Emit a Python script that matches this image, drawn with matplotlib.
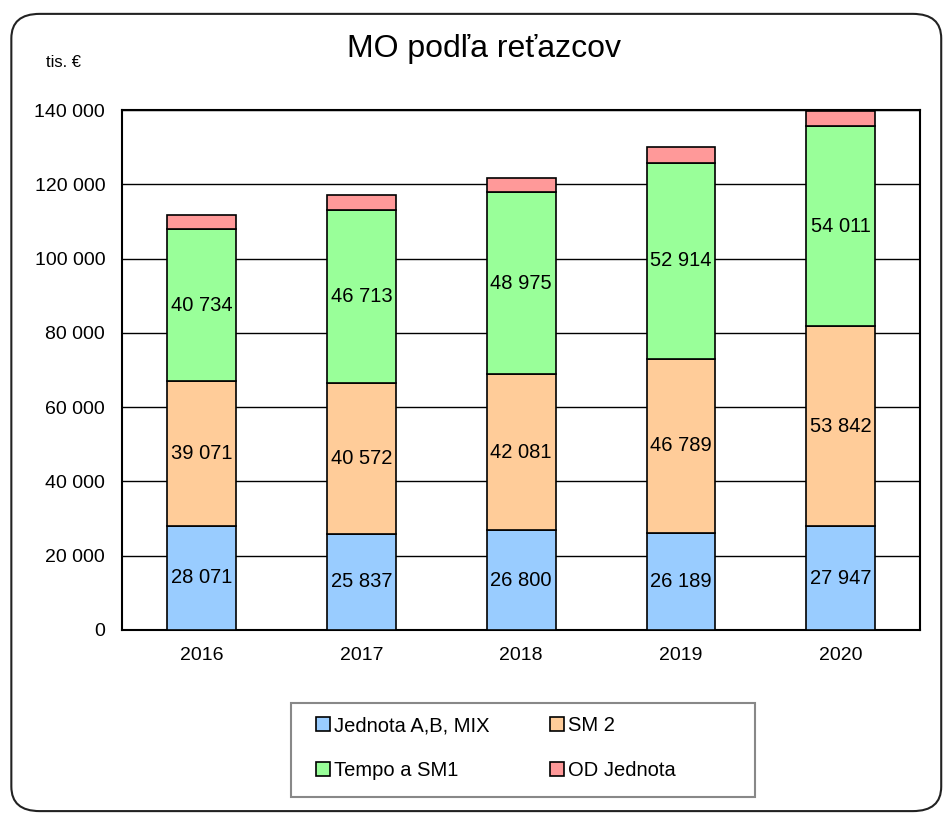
import matplotlib.pyplot as plt
import matplotlib as mpl
from matplotlib.patches import FancyBboxPatch, Rectangle
import numpy as np

years = ['2016', '2017', '2018', '2019', '2020']
jednota = [28071, 25837, 26800, 26189, 27947]
sm2 = [39071, 40572, 42081, 46789, 53842]
tempo = [40734, 46713, 48975, 52914, 54011]
od_jednota = [3900, 3950, 3850, 4150, 3950]

series = [
    ('Jednota A,B, MIX', jednota, '#99CCFF', True),
    ('SM 2', sm2, '#FFCC99', True),
    ('Tempo a SM1', tempo, '#99FF99', True),
    ('OD Jednota', od_jednota, '#FF9999', False),
]

plt.rcParams['font.family'] = ['Liberation Sans', 'DejaVu Sans']

fig = plt.figure(figsize=(9.45, 8.16), dpi=100)
fig.patches.append(FancyBboxPatch((0.012, 0.006), 0.984, 0.977,
                                  boxstyle='round,pad=0,rounding_size=0.03',
                                  transform=fig.transFigure, fill=False,
                                  edgecolor='#222222', lw=1.5))

ax = fig.add_axes([0.129, 0.228, 0.845, 0.637])
x = np.arange(len(years))
bottom = np.zeros(len(years))
for name, vals, color, show in series:
    vals = np.array(vals, dtype=float)
    ax.bar(x, vals, 0.43, bottom=bottom, color=color, edgecolor='black',
           lw=1.2, label=name, zorder=3)
    if show:
        for xi, b, v in zip(x, bottom, vals):
            ax.text(xi, b + v / 2, f'{int(v):,}'.replace(',', ' '),
                    ha='center', va='center', fontsize=14.5, zorder=4)
    bottom += vals

ax.set_xlim(-0.5, len(years) - 0.5)
ax.set_ylim(0, 140000)
ax.set_yticks(np.arange(0, 140001, 20000))
ax.set_yticklabels([f'{v:,}'.replace(',', ' ') for v in range(0, 140001, 20000)])
ax.set_xticks(x)
ax.set_xticklabels(years)
ax.tick_params(axis='both', length=0, labelsize=14, pad=12)
ax.yaxis.grid(True, color='black', lw=1.0, zorder=0)
ax.set_axisbelow(True)
for s in ax.spines.values():
    s.set_linewidth(1.5)
    s.set_color('black')

fig.text(0.512, 0.94, 'MO podľa reťazcov', ha='center', va='center', fontsize=23)
fig.text(0.067, 0.923, 'tis. €', ha='center', va='center', fontsize=12)

# legend frame drawn separately, legend laid out row by row
fig.patches.append(Rectangle((291 / 945, 1 - 797 / 816), 464 / 945, 94 / 816,
                             transform=fig.transFigure, fill=False,
                             edgecolor='#888888', lw=1.5))
handles, labels = ax.get_legend_handles_labels()
order = [0, 2, 1, 3]
leg = fig.legend([handles[i] for i in order], [labels[i] for i in order],
                 ncol=2, loc='upper left', bbox_to_anchor=(316 / 945, 1 - 716 / 816),
                 fontsize=14.5, frameon=False,
                 handlelength=0.7, handleheight=0.7, handletextpad=0.2,
                 labelspacing=1.3, columnspacing=3.0, borderpad=0, borderaxespad=0)

fig.savefig('out.png', dpi=100)
